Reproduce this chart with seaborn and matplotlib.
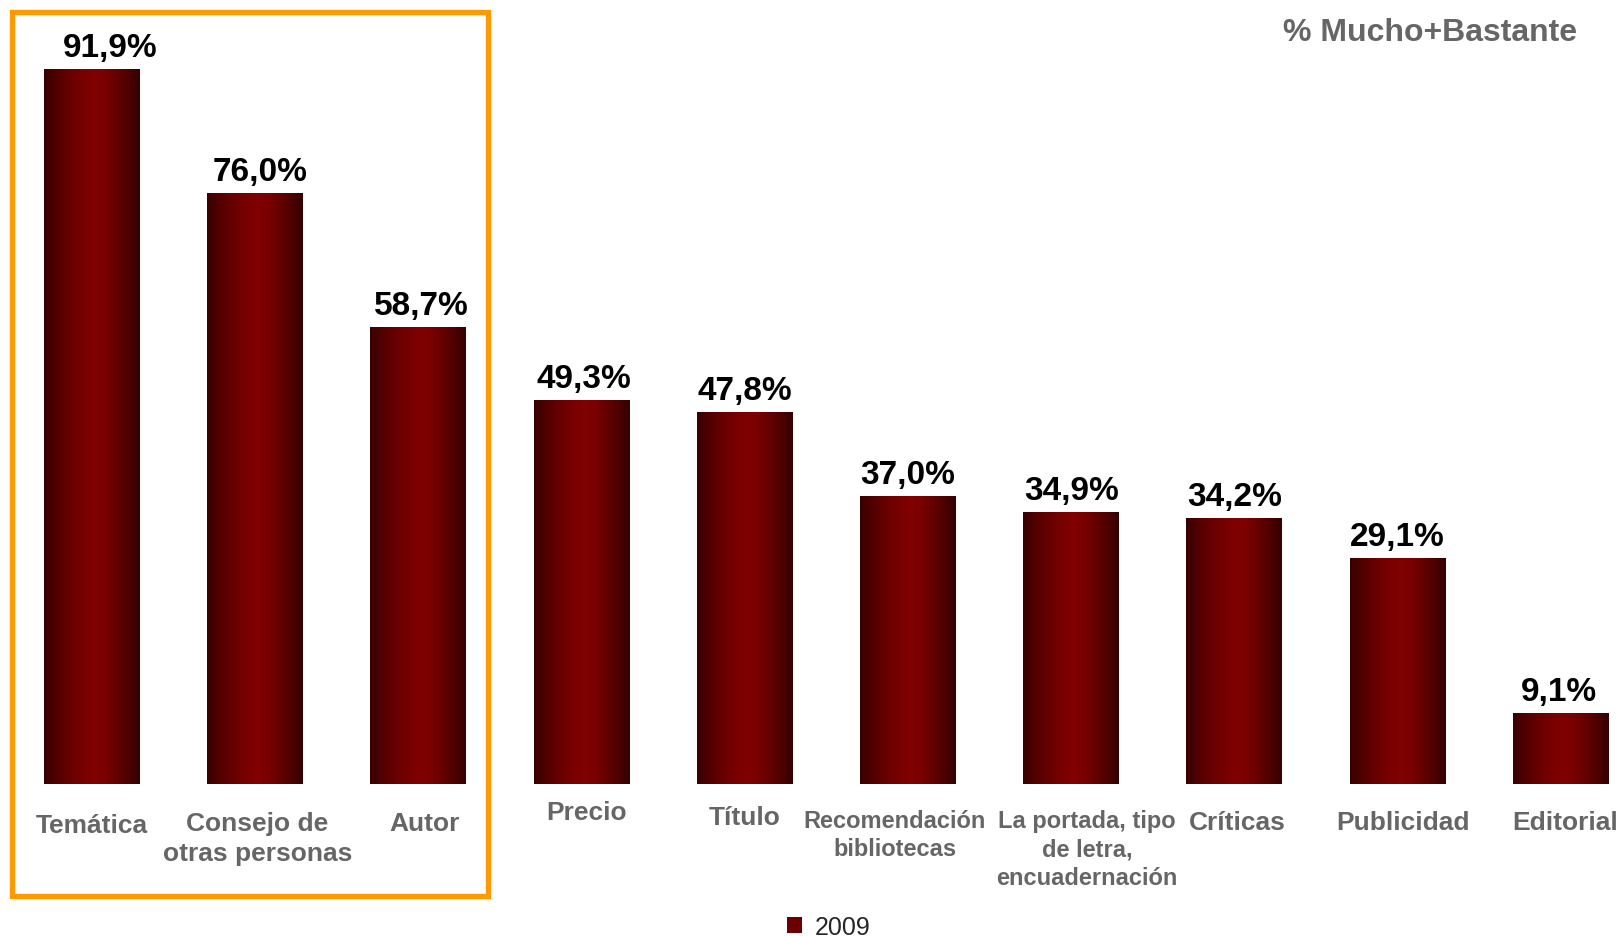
import numpy as np
import pandas as pd
import matplotlib
matplotlib.use("Agg")
import matplotlib.pyplot as plt
from matplotlib.colors import LinearSegmentedColormap
from matplotlib.patches import Rectangle, Patch
import seaborn as sns

categories = ["Temática", "Consejo de\notras personas", "Autor", "Precio", "Título",
              "Recomendación\nbibliotecas", "La portada, tipo\nde letra,\nencuadernación",
              "Críticas", "Publicidad", "Editorial"]
values = [91.9, 76.0, 58.7, 49.3, 47.8, 37.0, 34.9, 34.2, 29.1, 9.1]
value_labels = ["91,9%", "76,0%", "58,7%", "49,3%", "47,8%", "37,0%", "34,9%", "34,2%", "29,1%", "9,1%"]
series_name = "2009"
title_text = "% Mucho+Bastante"

# layout (pixels) for labels
label_dx = [0, 2, 6, 5, 0, -13, 16, 3, 5, 4]
label_drop = [29, 27, 27, 16, 21, 25, 25, 26, 26, 26]
label_size = [19, 19, 19, 19, 19, 17, 17, 19, 19, 19]
label_ls = [1.1, 1.3, 1.1, 1.1, 1.1, 1.3, 1.3, 1.1, 1.1, 1.1]
value_dx = [18, 5, 3, 2, 0, 0, 0, 0, 0, -2]

sns.set_theme(style="white")
plt.rcParams['font.family'] = ['Liberation Sans', 'DejaVu Sans']

W, H = 1623, 937
fig = plt.figure(figsize=(W / 100, H / 100), dpi=100)
bottom_px = 785
ax = fig.add_axes([0, 1 - bottom_px / H, 1, bottom_px / H])

df = pd.DataFrame({"cat": categories, "val": values})
sns.barplot(data=df, x="cat", y="val", ax=ax, width=0.588, color="#800000",
            saturation=1, edgecolor="none")

unit = 163.2
x0 = -92 / unit
x1 = (W - 92) / unit
ymax = bottom_px / 7.78

cmap = LinearSegmentedColormap.from_list("bar", [
    (0.0, "#380000"), (0.15, "#560000"), (0.35, "#720000"), (0.5, "#800000"),
    (0.62, "#7c0000"), (0.82, "#5a0000"), (1.0, "#340000")])
grad = np.linspace(0, 1, 256).reshape(1, -1)
for p in ax.patches:
    bx, by = p.get_x(), p.get_y()
    bw, bh = p.get_width(), p.get_height()
    im = ax.imshow(grad, cmap=cmap, extent=[bx, bx + bw, by, by + bh],
                   aspect="auto", zorder=3, interpolation="bilinear")
    im.set_clip_path(p)

ax.set_xlim(x0, x1)
ax.set_ylim(0, ymax)
ax.set_xlabel("")
ax.set_ylabel("")
ax.set_xticks([])
ax.set_yticks([])
for s in ax.spines.values():
    s.set_visible(False)
ax.patch.set_alpha(0)

px2pt = 72 / 100
for i, (v, lab) in enumerate(zip(values, value_labels)):
    ax.annotate(lab, xy=(i, v), xytext=(value_dx[i] * px2pt, 13 * px2pt),
                textcoords="offset points",
                ha="center", va="baseline", fontsize=24, fontweight="bold",
                color="black", zorder=5)

for i, cat in enumerate(categories):
    ax.annotate(cat, xy=(i, 0), xycoords=("data", "axes fraction"),
                xytext=(label_dx[i] * px2pt, -label_drop[i] * px2pt),
                textcoords="offset points", ha="center", va="top",
                fontsize=label_size[i], fontweight="bold", color="#666666",
                linespacing=label_ls[i], annotation_clip=False)

# orange highlight box around first three categories
fig.patches.append(Rectangle((11.5 / W, 1 - 897 / H), (488 - 11.5) / W, (897 - 13) / H,
                             transform=fig.transFigure, fill=False,
                             edgecolor="#FF9900", linewidth=3.8, zorder=10))

fig.text(1430 / W, 1 - 33 / H, title_text, ha="center", va="center",
         fontsize=23, fontweight="bold", color="#666666")

handle = Patch(facecolor="#6a0000", edgecolor="none")
fig.legend([handle], [series_name], loc="center", bbox_to_anchor=(829 / W, 1 - 928 / H),
           frameon=False, fontsize=18, handlelength=0.6, handleheight=0.6,
           handletextpad=0.5, borderpad=0)

fig.savefig("out.png", dpi=100)
